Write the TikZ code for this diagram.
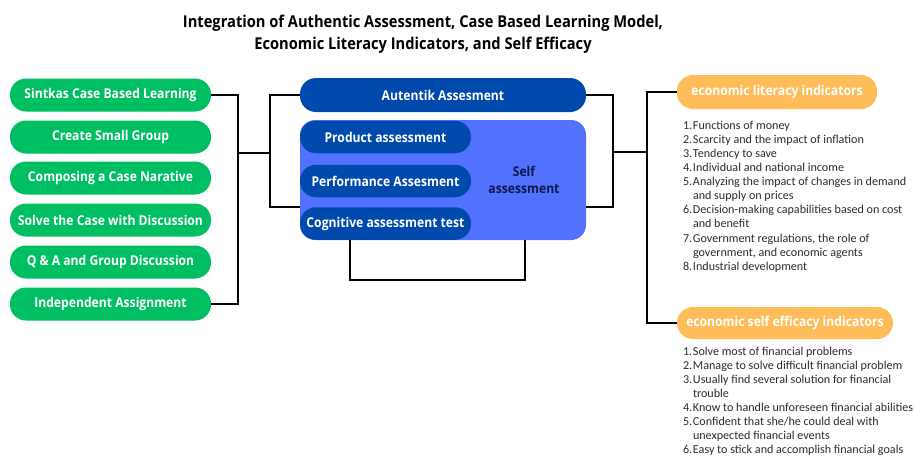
\documentclass[tikz,border=0pt]{standalone}
\usepackage{fontspec}
\setmainfont{Carlito}
\newfontfamily\boxfont[FakeStretch=0.9]{Open Sans}
\usetikzlibrary{positioning}
\definecolor{cgreen}{HTML}{00BF63}
\definecolor{cnavy}{HTML}{004AAD}
\definecolor{cblue}{HTML}{5271FF}
\definecolor{corange}{HTML}{FFBD59}
\definecolor{cink}{HTML}{0B1A4A}
\definecolor{clist}{HTML}{2B2B2B}
\tikzset{
	pill/.style={rounded corners=16pt,minimum height=33pt,inner sep=0pt,text=white,
		font=\boxfont\bfseries\fontsize{13.5}{15}\selectfont},
	greenbox/.style={pill,fill=cgreen,minimum width=201pt},
	navybox/.style={pill,fill=cnavy},
	orangebox/.style={pill,fill=corange,minimum height=33pt},
	itemlist/.style={inner sep=0pt,anchor=north west,text=clist,font=\fontsize{12.1}{14.1}\selectfont},
	link/.style={line width=1.6pt,line join=miter}
}
\newcommand{\nr}[1]{\makebox[10pt][l]{#1}}
\begin{document}
\begin{tikzpicture}[x=1pt,y=-1pt]
	\useasboundingbox (0,0) rectangle (914,456);
	\node[align=center,font=\boxfont\bfseries\fontsize{16.3}{22}\selectfont] (title) at (423,34)
		{Integration of Authentic Assessment, Case Based Learning Model,\\
		Economic Literacy Indicators, and Self Efficacy};
	% learning steps
	\foreach \n/\y/\t in {1/95/Sintkas Case Based Learning,2/137/Create Small Group,
		3/178/Composing a Case Narative,4/220/Solve the Case with Discussion,
		5/262/Q \& A and Group Discussion,6/304/Independent Assignment}{
		\node[greenbox] (g\n) at (110.5,\y) {\t};
	}
	% assessment block
	\node[navybox,minimum width=286pt,minimum height=34pt] (aut) at (443,95) {Autentik Assesment};
	\node[fill=cblue,rounded corners=15pt,minimum width=286pt,minimum height=120pt] (self) at (443,180) {};
	\foreach \n/\y/\t in {prod/137/Product assessment,perf/181/Performance Assesment,cog/223.5/Cognitive assessment test}{
		\node[navybox,minimum width=171pt,minimum height=32.5pt] (\n) at (385.5,\y) {\t};
	}
	\node[align=center,text=cink,font=\boxfont\bfseries\fontsize{13.5}{16.5}\selectfont] (selftxt) at (524,180) {Self\\assessment};
	% indicators
	\node[orangebox,minimum width=200pt,minimum height=34pt] (lit) at (777,92) {economic literacy indicators};
	\node[orangebox,minimum width=216pt,minimum height=32pt] (eff) at (785,323) {economic self efficacy indicators};
	\node[itemlist] (litlist) at ([xshift=6pt,yshift=-10pt]lit.south west) {%
		\begin{tabular}{@{}l@{}}
		\nr{1.}Functions of money\\
		\nr{2.}Scarcity and the impact of inflation\\
		\nr{3.}Tendency to save\\
		\nr{4.}Individual and national income\\
		\nr{5.}Analyzing the impact of changes in demand\\
		\nr{}and supply on prices\\
		\nr{6.}Decision-making capabilities based on cost\\
		\nr{}and benefit\\
		\nr{7.}Government regulations, the role of\\
		\nr{}government, and economic agents\\
		\nr{8.}Industrial development
		\end{tabular}};
	\node[itemlist] (efflist) at ([xshift=6pt,yshift=-6pt]eff.south west) {%
		\begin{tabular}{@{}l@{}}
		\nr{1.}Solve most of financial problems\\
		\nr{2.}Manage to solve difficult financial problem\\
		\nr{3.}Usually find several solution for financial\\
		\nr{}trouble\\
		\nr{4.}Know to handle unforeseen financial abilities\\
		\nr{5.}Confident that she/he could deal with\\
		\nr{}unexpected financial events\\
		\nr{6.}Easy to stick and accomplish financial goals
		\end{tabular}};
	% connectors
	\path (238,153) coordinate (lj)
		(270,153) coordinate (lk)
		(300,207) coordinate (selfin)
		(613,152) coordinate (rj)
		(586,207) coordinate (selfout)
		(647,152) coordinate (rk)
		(350,240) coordinate (cogout)
		(525,240) coordinate (selfbot);
	\draw[link] (g1.east) -| (lj) |- (g6.east);
	\draw[link] (lj) -- (lk);
	\draw[link] (aut.west) -| (lk) |- (selfin);
	\draw[link] (aut.east) -| (rj) |- (selfout);
	\draw[link] (rj) -- (rk);
	\draw[link] (lit.west) -| (rk) |- (eff.west);
	\draw[link] (cogout) -- ++(0,40) -| (selfbot);
\end{tikzpicture}
\end{document}
